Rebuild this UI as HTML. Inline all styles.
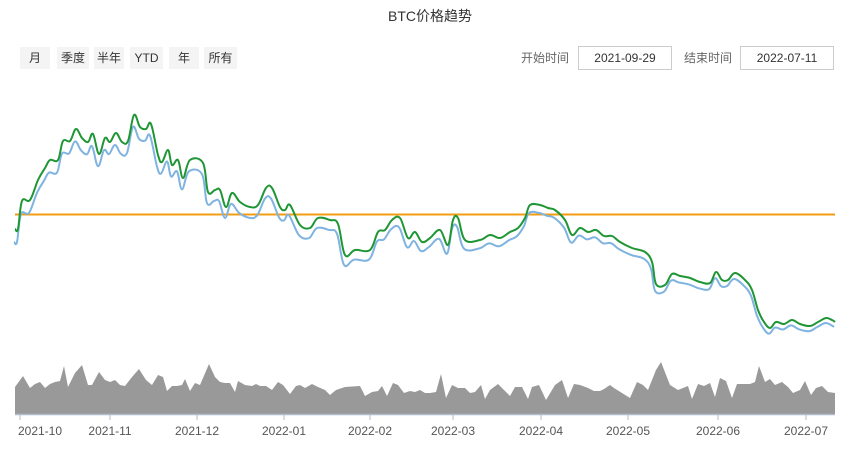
<!DOCTYPE html>
<html><head><meta charset="utf-8"><style>
body{margin:0;background:#fff;width:860px;height:458px;overflow:hidden;font-family:"Liberation Sans","Noto Sans CJK SC",sans-serif;}
.t{position:absolute;top:6px;left:0;width:860px;text-align:center;font-size:14px;color:#333}
.b{position:absolute;top:47px;height:22px;line-height:22px;font-size:12px;color:#333;background:#f4f4f4;text-align:center}
.l{position:absolute;top:47px;line-height:22px;font-size:12px;color:#666}
.i{position:absolute;top:46px;height:22px;line-height:22px;font-size:12px;color:#333;border:1px solid #ccc;text-align:center;width:92px}
</style></head><body>
<div class="t">BTC价格趋势</div>
<div class="b" style="left:20px;width:30px">月</div>
<div class="b" style="left:57px;width:32px">季度</div>
<div class="b" style="left:94px;width:30px">半年</div>
<div class="b" style="left:130px;width:33px">YTD</div>
<div class="b" style="left:169px;width:30px">年</div>
<div class="b" style="left:204px;width:33px">所有</div>
<div class="l" style="left:521px">开始时间</div>
<div class="i" style="left:578px">2021-09-29</div>
<div class="l" style="left:684px">结束时间</div>
<div class="i" style="left:740px">2022-07-11</div>
<svg id="s" width="860" height="458" style="position:absolute;left:0;top:0"></svg>
<script>
var g=[[15,229],[18,229],[22,201],[30,200],[38,180],[45,168],[50,160],[58,160],[63,141],[70,141],[76,129],[82,138],[88,142],[93,134],[99,154],[105,138],[110,142],[116,133],[122,142],[128,141],[134,115],[140,127],[146,129],[151,124],[158,155],[162,162],[168,150],[172,165],[178,160],[183,178],[190,160],[203,163],[208,192],[215,190],[220,190],[226,207],[232,193],[240,202],[250,207],[258,205],[266,188],[272,188],[280,207],[285,210],[290,205],[300,225],[310,228],[318,218],[330,220],[338,224],[345,255],[355,250],[370,250],[378,232],[385,230],[392,220],[400,218],[408,238],[415,232],[422,242],[430,238],[440,230],[448,245],[453,220],[458,218],[465,240],[480,240],[490,235],[500,238],[510,232],[518,228],[525,218],[530,205],[540,205],[548,208],[555,210],[565,220],[572,235],[580,228],[588,232],[596,230],[604,236],[612,236],[620,242],[632,248],[645,252],[652,262],[656,284],[665,285],[672,274],[680,276],[690,278],[700,282],[710,283],[716,272],[722,280],[728,280],[735,273],[745,280],[752,290],[758,310],[764,322],[770,328],[776,322],[784,324],[792,320],[800,324],[810,326],[818,322],[826,318],[832,320],[835,322]];
function path(p){var d="M"+p[0][0]+","+p[0][1];for(var i=1;i<p.length;i++){var a=p[i-1],b=p[i],a0=p[i-2]||a,b1=p[i+1]||b;var t=0.18;
var c1x=a[0]+(b[0]-a0[0])*t,c1y=a[1]+(b[1]-a0[1])*t,c2x=b[0]-(b1[0]-a[0])*t,c2y=b[1]-(b1[1]-a[1])*t;
d+=" C"+c1x.toFixed(1)+","+c1y.toFixed(1)+" "+c2x.toFixed(1)+","+c2y.toFixed(1)+" "+b[0]+","+b[1];}return d;}
var bl=g.map(function(p){var o=13-8*(p[0]-15)/820;return [p[0]-1,p[1]+o];});
var s="";
var v=[[15,387],[23,376],[30,388],[35,384],[40,382],[45,388],[50,384],[55,382],[60,381],[64,366],[68,387],[75,373],[82,365],[88,385],[92,385],[99,372],[105,380],[110,382],[115,380],[120,385],[125,386],[132,377],[139,369],[146,380],[152,385],[158,375],[163,377],[167,391],[172,386],[177,386],[182,385],[185,379],[190,391],[195,383],[200,385],[209,364],[215,377],[220,382],[225,383],[230,383],[235,392],[238,381],[245,385],[252,386],[256,384],[260,386],[266,386],[272,390],[278,382],[283,385],[290,394],[296,386],[300,385],[305,388],[312,384],[318,387],[325,390],[330,395],[336,390],[345,387],[360,386],[365,396],[372,392],[378,391],[382,386],[387,396],[393,383],[398,385],[404,393],[410,391],[415,392],[420,390],[425,393],[430,393],[436,392],[441,374],[446,398],[452,385],[458,388],[465,388],[470,393],[475,392],[481,385],[485,399],[490,390],[498,384],[510,396],[515,387],[522,387],[528,399],[532,387],[539,385],[546,400],[555,385],[562,380],[568,398],[574,384],[580,385],[588,388],[594,391],[600,391],[604,389],[610,385],[614,388],[630,398],[637,382],[643,385],[648,390],[656,370],[661,362],[670,385],[678,390],[688,386],[692,399],[698,384],[704,386],[710,383],[715,397],[720,378],[726,381],[732,398],[737,384],[750,384],[755,382],[759,366],[765,382],[770,379],[775,385],[782,382],[788,387],[793,393],[800,390],[805,381],[811,395],[816,388],[822,386],[828,392],[835,393]];
var vp="M15,414";v.forEach(function(p){vp+=" L"+p[0]+","+p[1];});vp+=" L835,414 Z";
s+='<path d="'+vp+'" fill="#999"/>';
s+='<line x1="15" y1="414.5" x2="835" y2="414.5" stroke="#b0bccc" stroke-width="1.5"/>';
var tk=[[20,"2021-10",40],[110,"2021-11",110],[197,"2021-12",197],[284,"2022-01",284],[370,"2022-02",370],[453,"2022-03",453],[541,"2022-04",541],[628,"2022-05",628],[718,"2022-06",718],[806,"2022-07",806]];
tk.forEach(function(t){s+='<line x1="'+t[0]+'" y1="415" x2="'+t[0]+'" y2="420" stroke="#b0bccc"/><text x="'+t[2]+'" y="435" font-size="12" fill="#555" text-anchor="middle" font-family="Liberation Sans">'+t[1]+'</text>';});
s+='<line x1="15" y1="214.5" x2="835" y2="214.5" stroke="#f39c12" stroke-width="2"/>';
s+='<path d="'+path(bl)+'" fill="none" stroke="#7fb3e0" stroke-width="2"/>';
s+='<path d="'+path(g)+'" fill="none" stroke="#1e9634" stroke-width="2"/>';
document.getElementById("s").innerHTML=s;
</script>
</body></html>
